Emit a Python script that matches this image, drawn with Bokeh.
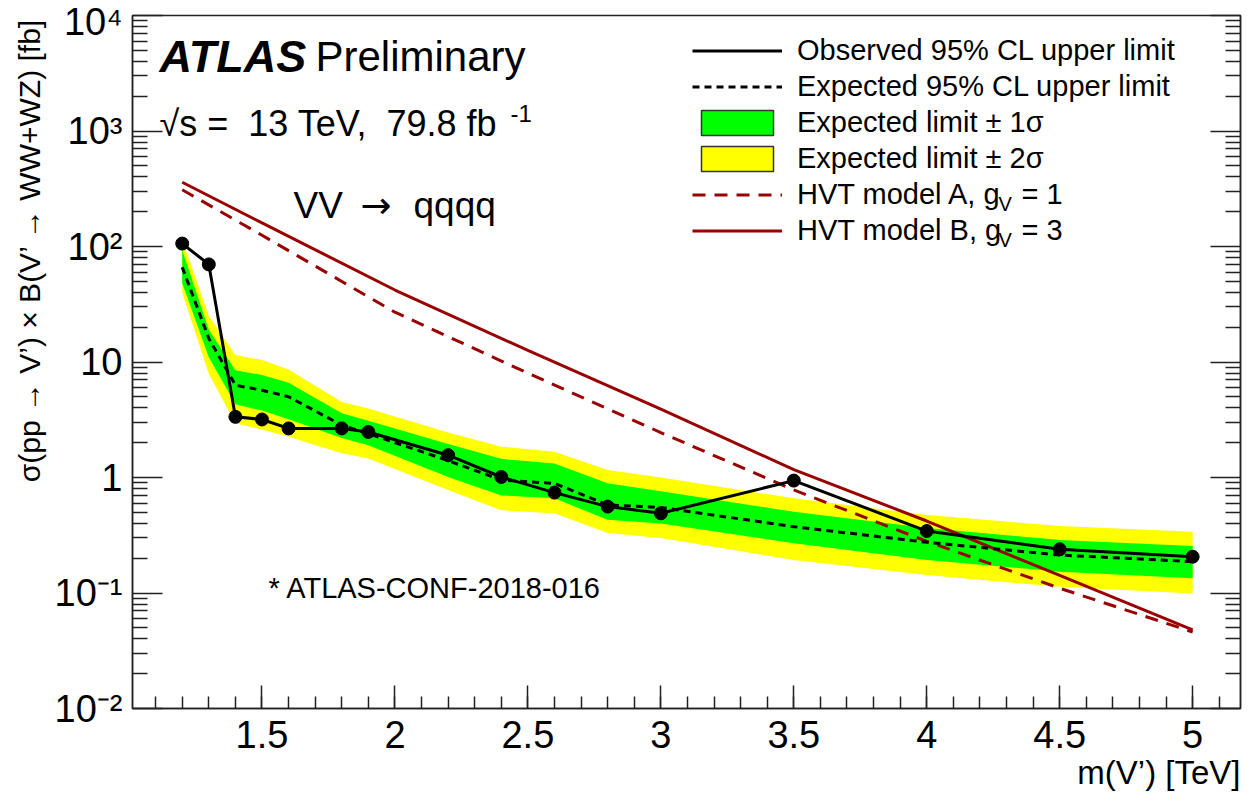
import math
from bokeh.plotting import figure
from bokeh.layouts import row
from bokeh.models import (Range1d, FixedTicker, LogAxis, Label, Legend, LegendItem,
                          CustomJSTickFormatter, Title)
from bokeh.embed import file_html
from bokeh.resources import INLINE

# ---- data -----------------------------------------------------------------
mass = [1.2, 1.3, 1.4, 1.5, 1.6, 1.8, 1.9, 2.2, 2.4, 2.6, 2.8, 3.0, 3.5, 4.0, 4.5, 5.0]
observed = [106, 70, 3.35, 3.18, 2.66, 2.66, 2.48, 1.56, 1.01, 0.74, 0.56, 0.49, 0.94, 0.344, 0.239, 0.206]
expected = [66, 16, 6.3, 5.7, 5.0, 2.84, 2.4, 1.40, 0.95, 0.89, 0.58, 0.55, 0.375, 0.275, 0.213, 0.187]
exp_plus1 = [93, 19, 8.5, 7.7, 6.6, 3.6, 3.1, 1.95, 1.45, 1.32, 0.89, 0.76, 0.505, 0.365, 0.288, 0.255]
exp_minus1 = [48, 11, 4.3, 3.8, 3.2, 2.2, 1.9, 1.01, 0.70, 0.66, 0.43, 0.40, 0.27, 0.193, 0.153, 0.134]
exp_plus2 = [115, 25, 11.5, 10.4, 8.6, 4.5, 3.95, 2.45, 1.85, 1.67, 1.16, 1.0, 0.66, 0.473, 0.38, 0.339]
exp_minus2 = [40, 7.9, 2.95, 2.6, 2.25, 1.62, 1.46, 0.78, 0.52, 0.49, 0.33, 0.30, 0.193, 0.143, 0.113, 0.099]

hvt_mass = [1.2, 1.5, 2.0, 2.5, 3.0, 3.5, 4.0, 4.5, 5.0]
hvt_model_a = [310, 125, 27, 8.0, 2.45, 0.78, 0.28, 0.11, 0.046]
hvt_model_b = [360, 160, 42, 12.6, 3.9, 1.17, 0.42, 0.142, 0.048]

x_ticks = [1.5, 2, 2.5, 3, 3.5, 4, 4.5, 5]
x_minor = [round(1.1 + 0.1 * i, 1) for i in range(41)]
y_ticks = [1e-2, 1e-1, 1, 10, 1e2, 1e3, 1e4]
y_tick_labels = ["10⁻²", "10⁻¹", "1", "10", "10²", "10³", "10⁴"]
y_minor = [k * 10.0 ** e for e in range(-2, 4) for k in range(2, 10)]

FONT = "Liberation Sans"
HVT_RED = "#990000"
AXIS_GREY = "#222222"
GREEN = "#00ff00"
YELLOW = "#ffff00"
X0, X1 = 1.013, 5.18
Y0, Y1 = 1e-2, 1e4
WIDTH, HEIGHT = 1249, 808
STRIP = 50  # narrow strip on the left that carries the vertical axis title

p = figure(width=WIDTH - STRIP, height=HEIGHT, x_range=Range1d(X0, X1),
           y_range=Range1d(Y0, Y1), y_axis_type="log", output_backend="svg",
           toolbar_location=None, min_border_left=132 - STRIP, min_border_right=9,
           min_border_top=15, min_border_bottom=100)
p.background_fill_color = "white"
p.border_fill_color = "white"
p.grid.visible = False
p.outline_line_color = AXIS_GREY
p.outline_line_width = 1.5


def style_ticks(ax, major_len, minor_len):
    ax.major_tick_in = major_len
    ax.major_tick_out = 0
    ax.minor_tick_in = minor_len
    ax.minor_tick_out = 0
    ax.axis_line_color = AXIS_GREY
    ax.major_tick_line_color = AXIS_GREY
    ax.minor_tick_line_color = AXIS_GREY
    ax.axis_line_width = 1.5
    ax.major_tick_line_width = 1.5
    ax.minor_tick_line_width = 1.5


# x axis
xa = p.xaxis[0]
xa.ticker = FixedTicker(ticks=x_ticks, minor_ticks=x_minor)
xa.formatter = CustomJSTickFormatter(code="return tick.toString()")
style_ticks(xa, 23, 12)
xa.major_label_text_font = FONT
xa.major_label_text_font_size = "38px"
xa.major_label_text_color = "black"
xa.major_label_standoff = 12

# left y axis with decade labels
ya = p.yaxis[0]
ya.ticker = FixedTicker(ticks=y_ticks, minor_ticks=y_minor)
ya.formatter = CustomJSTickFormatter(args=dict(decades=y_ticks, names=y_tick_labels), code="""
    for (let i = 0; i < decades.length; i++) {
        if (Math.abs(Math.log10(tick) - Math.log10(decades[i])) < 1e-6) return names[i];
    }
    return "";
""")
style_ticks(ya, 30, 15)
ya.major_label_text_font = FONT
ya.major_label_text_font_size = "38px"
ya.major_label_text_color = "black"
ya.major_label_standoff = 10

# right y axis: ticks only
ry = LogAxis(ticker=FixedTicker(ticks=y_ticks, minor_ticks=y_minor),
             formatter=CustomJSTickFormatter(code="return ''"))
style_ticks(ry, 30, 15)
ry.major_label_text_font_size = "10px"
ry.major_label_standoff = 0
p.add_layout(ry, "right")

# x axis title, flush right under the axis
p.add_layout(Title(text="m(V’) [TeV]", align="right", standoff=3, text_font=FONT,
                   text_font_size="33px", text_font_style="normal",
                   text_color="black"), "below")

# ---- bands and curves ------------------------------------------------------
r_y = p.varea(x=mass, y1=exp_minus2, y2=exp_plus2, fill_color=YELLOW)
r_g = p.varea(x=mass, y1=exp_minus1, y2=exp_plus1, fill_color=GREEN)

# hidden boxes spanning each band: they only lend the legend swatch its outline
key_g = p.quad(left=[min(mass)], right=[max(mass)], bottom=[min(exp_minus1)],
               top=[max(exp_plus1)], fill_color=GREEN, line_color="#333333",
               line_width=1.5, visible=False)
key_y = p.quad(left=[min(mass)], right=[max(mass)], bottom=[min(exp_minus2)],
               top=[max(exp_plus2)], fill_color=YELLOW, line_color="#333333",
               line_width=1.5, visible=False)

r_a = p.line(hvt_mass, hvt_model_a, line_color=HVT_RED, line_width=3, line_dash="13 9")
r_b = p.line(hvt_mass, hvt_model_b, line_color=HVT_RED, line_width=3)

r_exp = p.line(mass, expected, line_color="black", line_width=3, line_dash="7 5")
r_obs = p.line(mass, observed, line_color="black", line_width=3)
p.scatter(mass, observed, size=13, fill_color="black", line_color="black")

legend = Legend(items=[
    LegendItem(label="Observed 95% CL upper limit", renderers=[r_obs]),
    LegendItem(label="Expected 95% CL upper limit", renderers=[r_exp]),
    LegendItem(label="Expected limit ± 1σ", renderers=[r_g, key_g]),
    LegendItem(label="Expected limit ± 2σ", renderers=[r_y, key_y]),
    LegendItem(label="HVT model A, g", renderers=[r_a]),
    LegendItem(label="HVT model B, g", renderers=[r_b]),
], location=(560, 460))
legend.label_text_font = FONT
legend.label_text_font_size = "29px"
legend.label_text_color = "black"
legend.glyph_width = 90
legend.glyph_height = 31
legend.label_height = 36
legend.label_standoff = 15
legend.spacing = 0
legend.padding = 0
legend.margin = 0
legend.border_line_alpha = 0
legend.background_fill_alpha = 0
legend.inactive_fill_alpha = 0
p.add_layout(legend)


# ---- text inside the frame ---------------------------------------------------
def note(text, dx, dy, size, style="normal", font=FONT):
    """Text whose baseline starts dx px right of the frame's left edge, dy px below its top."""
    p.add_layout(Label(x=X0, y=Y1, x_offset=dx, y_offset=-dy, text=text,
                       text_font=font, text_font_size=size, text_font_style=style,
                       text_align="left", text_baseline="alphabetic", text_color="black"))


note("ATLAS", 27, 41, "45px", style="bold italic")
note("Preliminary", 183, 41, "42px")
note("√s = \u00a013 TeV, \u00a079.8 fb", 27, 108, "36px")
note("-1", 378, 98, "24px")
note("VV", 161, 190, "37px")
note("→", 228, 190, "37px", font="DejaVu Sans")
note("qqqq", 281, 190, "37px")
note("* ATLAS-CONF-2018-016", 136, 572, "29px")

# subscripts in the HVT legend entries
note("V", 866, 188, "20px")
note("= 1", 889, 178, "29px")
note("V", 866, 224, "20px")
note("= 3", 889, 214, "29px")

# ---- vertical axis title in its own strip (pixel coordinates, y up) ---------
side = figure(width=STRIP, height=HEIGHT, x_range=Range1d(0, STRIP), y_range=Range1d(0, HEIGHT),
              output_backend="svg", toolbar_location=None, min_border=0)
side.axis.visible = False
side.grid.visible = False
side.outline_line_color = None
side.background_fill_color = "white"
side.border_fill_color = "white"
side.add_layout(Label(x=29, y=HEIGHT - 274, text="σ(pp → V’) × B(V’ → WW+WZ) [fb]",
                      angle=math.pi / 2, text_align="center", text_baseline="middle",
                      text_font=FONT, text_font_size="30px", text_color="black"))

layout = row(side, p, spacing=0)
open("out.html", "w").write(file_html(layout, INLINE))
